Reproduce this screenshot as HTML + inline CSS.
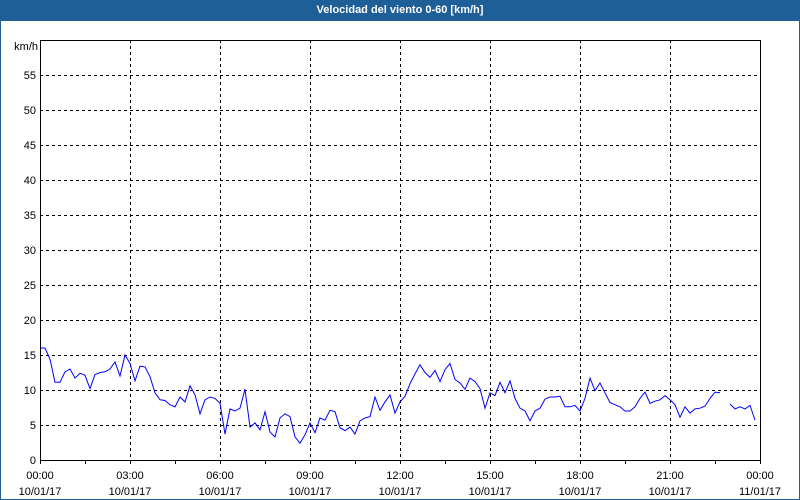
<!DOCTYPE html>
<html><head><meta charset="utf-8"><style>
body{margin:0;background:#fff;}
#wrap{position:relative;width:800px;height:500px;overflow:hidden;font-family:"Liberation Sans",sans-serif;}
#title{position:absolute;left:0;top:0;width:800px;height:21px;background:#1e5f97;color:#fff;font-weight:bold;font-size:11px;text-align:center;line-height:21px;}
svg{position:absolute;left:0;top:0;}
</style></head><body>
<div id="wrap">
<div id="title">Velocidad del viento 0-60 [km/h]</div>
<svg id="chart" width="800" height="500">
<rect x="0.5" y="20.5" width="799" height="479" fill="none" stroke="#1e5f97"/>
</svg>
</div>
<script>
const yTicks=[0,5,10,15,20,25,30,35,40,45,50,55];
const xTickTimes=["00:00","03:00","06:00","09:00","12:00","15:00","18:00","21:00","00:00"];
const xTickDates=["10/01/17","10/01/17","10/01/17","10/01/17","10/01/17","10/01/17","10/01/17","10/01/17","11/01/17"];
const windSpeed=[16.0,16.0,14.4,11.1,11.1,12.6,13.0,11.7,12.4,12.1,10.2,12.2,12.5,12.6,13.0,14.0,12.0,15.0,13.8,11.3,13.4,13.3,11.9,9.6,8.6,8.5,7.9,7.6,9.0,8.3,10.6,9.3,6.6,8.6,9.0,8.8,8.1,3.7,7.3,7.0,7.4,10.1,4.7,5.3,4.3,6.9,4.0,3.3,6.0,6.6,6.2,3.3,2.4,3.6,5.3,3.9,6.0,5.7,7.1,6.9,4.6,4.2,4.7,3.7,5.6,6.0,6.2,9.0,7.1,8.3,9.3,6.7,8.3,9.1,10.9,12.3,13.6,12.5,11.8,12.8,11.2,12.9,13.8,11.5,11.0,10.1,11.7,11.2,10.2,7.4,9.6,9.2,11.1,9.6,11.3,8.8,7.4,7.0,5.6,7.0,7.4,8.7,9.0,9.0,9.1,7.6,7.6,7.8,7.0,8.8,11.7,9.9,11.0,9.6,8.2,7.9,7.6,7.0,7.0,7.6,8.8,9.7,8.1,8.4,8.6,9.2,8.6,7.9,6.1,7.6,6.7,7.3,7.4,7.7,8.8,9.7,9.6,null,8.0,7.3,7.6,7.3,7.8,5.7];
const L=40,R=760,T=40,B=460,YMAX=60,HOURS=24,STEP_MIN=10;
const NS="http://www.w3.org/2000/svg";
const svg=document.getElementById('chart');
function xs(h){return L+(R-L)*h/HOURS;}
function ys(v){return B-(B-T)*v/YMAX;}
function mk(t,a){const e=document.createElementNS(NS,t);for(const k in a)e.setAttribute(k,a[k]);svg.appendChild(e);return e;}
// horizontal grid + labels
yTicks.forEach(v=>{
  if(v>0){const g=mk('line',{x1:L,x2:R,y1:ys(v)+0.5,y2:ys(v)+0.5,stroke:'#000','stroke-dasharray':'3,3'});
  
  }
  const t=mk('text',{x:36,y:ys(v)+4,'text-anchor':'end','font-size':'11',fill:'#000'});
  t.textContent=v;
  
  
});
// vertical grid + labels
xTickTimes.forEach((lab,i)=>{
  const x=xs(i*3);
  if(i>0&&i<xTickTimes.length-1){const g=mk('line',{x1:x+0.5,x2:x+0.5,y1:T,y2:B,stroke:'#000','stroke-dasharray':'3,3'});
  
  }
  const t1=mk('text',{x:x,y:479,'text-anchor':'middle','font-size':'11',fill:'#000'});
  t1.textContent=lab;
  
  
  const t2=mk('text',{x:x,y:495,'text-anchor':'middle','font-size':'11',fill:'#000'});
  t2.textContent=xTickDates[i];
  
  
});
// minor ticks
for(let h=0;h<=HOURS;h+=1.5){const m=mk('line',{x1:Math.round(xs(h))+0.5,x2:Math.round(xs(h))+0.5,y1:B,y2:B+4,stroke:'#000'});

}
// axes box
const box=mk('rect',{x:L+0.5,y:T+0.5,width:R-L,height:B-T,fill:'none',stroke:'#000'});


const yu=mk('text',{x:38,y:50,'text-anchor':'end','font-size':'11',fill:'#000'});
yu.textContent='km/h';


// series
let d='',pen=false;
windSpeed.forEach((v,i)=>{
  if(v===null){pen=false;return;}
  const x=xs(i*STEP_MIN/60),y=ys(v);
  d+=(pen?'L':'M')+x.toFixed(1)+' '+y.toFixed(1)+' ';pen=true;
});
const p=mk('path',{d:d,fill:'none',stroke:'#0000ff','stroke-width':'1'});


</script>
</body></html>
